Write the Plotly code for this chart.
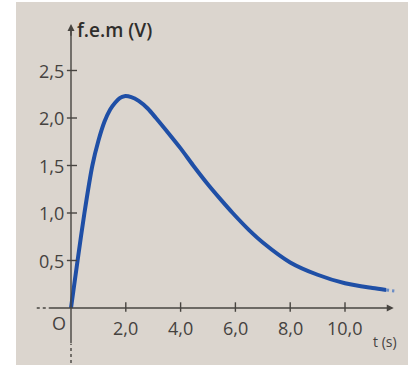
import plotly.graph_objects as go

# ---- data ----
t_values = [0, 0.24, 0.49, 0.78, 1.0, 1.22, 1.43, 1.61, 1.78, 1.95, 2.2, 2.47, 2.8, 3.1,
            3.5, 4.0, 4.46, 5.0, 5.5, 5.9, 6.5, 7.0, 8.0, 9.0, 10.0, 11.0, 11.5]
fem_values = [0, 0.5, 1.0, 1.5, 1.76, 1.96, 2.09, 2.16, 2.21, 2.23, 2.22, 2.18, 2.1, 2.0,
              1.86, 1.68, 1.5, 1.3, 1.13, 1.0, 0.82, 0.69, 0.48, 0.35, 0.26, 0.21, 0.19]
x_ticks = [2.0, 4.0, 6.0, 8.0, 10.0]
x_tick_labels = ["2,0", "4,0", "6,0", "8,0", "10,0"]
y_ticks = [0.5, 1.0, 1.5, 2.0, 2.5]
y_tick_labels = ["0,5", "1,0", "1,5", "2,0", "2,5"]
y_title = "f.e.m (V)"
x_title = "t (s)"

W, H = 411, 376
ml, mr, mt, mb = 16, 3, 2, 11
px_x0, ppu_x = 71, 27.4      # pixel of t=0, pixels per second
px_y0, ppu_y = 308, 95.0     # pixel of fem=0, pixels per volt
x_range = [(ml - px_x0) / ppu_x, (W - mr - px_x0) / ppu_x]
y_range = [(px_y0 - (H - mb)) / ppu_y, (px_y0 - mt) / ppu_y]

axis_col = "#474440"
text_col = "#45423f"
bg = "#dbd5ce"

fig = go.Figure()

# curve
fig.add_trace(go.Scatter(x=t_values, y=fem_values, mode="lines",
                         line=dict(color="#1f4fa6", width=4, shape="spline", smoothing=0.8),
                         hoverinfo="skip"))
# dotted continuation of the curve
fig.add_trace(go.Scatter(x=[t_values[-1], t_values[-1] + 0.3],
                         y=[fem_values[-1], fem_values[-1] - 0.01], mode="lines",
                         line=dict(color="#6a8cc6", width=3, dash="dot"), hoverinfo="skip"))

# axes
fig.add_trace(go.Scatter(x=[-0.8, 11.6], y=[0, 0], mode="lines",
                         line=dict(color=axis_col, width=1.4), hoverinfo="skip"))
fig.add_trace(go.Scatter(x=[-1.25, -0.8], y=[0, 0], mode="lines",
                         line=dict(color=axis_col, width=1.4, dash="dot"), hoverinfo="skip"))
fig.add_trace(go.Scatter(x=[0, 0], y=[-0.37, 2.93], mode="lines",
                         line=dict(color=axis_col, width=1.4), hoverinfo="skip"))
fig.add_trace(go.Scatter(x=[0, 0], y=[-0.58, -0.38], mode="lines",
                         line=dict(color=axis_col, width=1.4, dash="dot"), hoverinfo="skip"))

# ticks
tx, ty = [], []
for v in x_ticks:
    tx += [v, v, None]
    ty += [-0.04, 0.06, None]
for v in y_ticks:
    tx += [-0.15, 0.22, None]
    ty += [v, v, None]
fig.add_trace(go.Scatter(x=tx, y=ty, mode="lines",
                         line=dict(color=axis_col, width=1.4), hoverinfo="skip"))

# arrow heads
fig.add_annotation(x=0, y=2.99, ax=0, ay=2.85, xref="x", yref="y", axref="x", ayref="y",
                   showarrow=True, arrowhead=2, arrowsize=1, arrowwidth=1.4,
                   arrowcolor=axis_col, text="")
fig.add_annotation(x=11.78, y=0, ax=11.5, ay=0, xref="x", yref="y", axref="x", ayref="y",
                   showarrow=True, arrowhead=2, arrowsize=1, arrowwidth=1.4,
                   arrowcolor=axis_col, text="")

font = "Open Sans"
for v, lab in zip(x_ticks, x_tick_labels):
    fig.add_annotation(x=v, y=-0.21, text=lab, showarrow=False, xref="x", yref="y",
                       font=dict(family=font, size=18, color=text_col))
for v, lab in zip(y_ticks, y_tick_labels):
    fig.add_annotation(x=-0.18, y=v, text=lab, showarrow=False, xref="x", yref="y",
                       xanchor="right", font=dict(family=font, size=18, color=text_col))
fig.add_annotation(x=-0.42, y=-0.16, text="O", showarrow=False, xref="x", yref="y",
                   font=dict(family=font, size=18, color=text_col))
fig.add_annotation(x=0.13, y=2.93, text=y_title, showarrow=False, xref="x", yref="y",
                   xanchor="left", font=dict(family=font, size=19, color="#2f2d2b", weight=600))
fig.add_annotation(x=11.45, y=-0.35, text=x_title, showarrow=False, xref="x", yref="y",
                   font=dict(family=font, size=14, color=text_col))

fig.update_layout(
    width=W, height=H,
    margin=dict(l=ml, r=mr, t=mt, b=mb),
    paper_bgcolor="white", plot_bgcolor=bg,
    showlegend=False,
    xaxis=dict(range=x_range, visible=False, fixedrange=True),
    yaxis=dict(range=y_range, visible=False, fixedrange=True),
)

fig.write_html("out.html", config={"displayModeBar": False},
               post_script="document.body.style.margin='0';")
